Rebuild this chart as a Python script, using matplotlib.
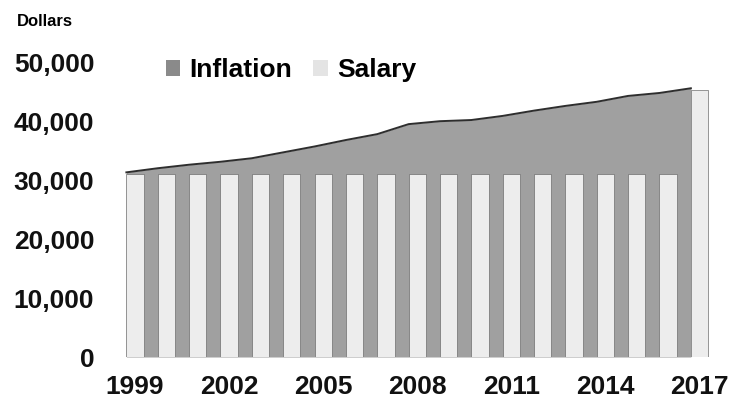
import numpy as np
import matplotlib.pyplot as plt
from matplotlib.patches import Patch

# Data
years = list(range(1999, 2018))
inflation = [31400, 32100, 32700, 33200, 33800, 34800, 35800, 36900, 37900, 39600,
             40100, 40300, 41000, 41900, 42700, 43400, 44400, 44900, 45700]
salary = [31200, 31200, 31200, 31200, 31200, 31200, 31200, 31200, 31200, 31200,
          31200, 31200, 31200, 31200, 31200, 31200, 31200, 31200, 45400]
tick_years = [1999, 2002, 2005, 2008, 2011, 2014, 2017]
ytick_vals = [0, 10000, 20000, 30000, 40000, 50000]

plt.rcParams['font.family'] = ['Liberation Sans', 'DejaVu Sans']
plt.rcParams['font.weight'] = 'bold'

fig = plt.figure(figsize=(7.32, 4.05), dpi=100)
ax = fig.add_axes([0.163, 0.1185, 0.814, 0.726])

x = np.arange(len(years))
bar_w = 0.55
area_col = '#a0a0a0'
bar_col = '#ededed'

# area is anchored on the bar left edges
ax.fill_between(x - bar_w / 2, 0, inflation, color=area_col, lw=0, zorder=1)
ax.plot(x - bar_w / 2, inflation, color='#2e2e2e', lw=1.4, zorder=2)
ax.bar(x, salary, width=bar_w, color=bar_col, edgecolor='#6e6e6e', lw=0.5, zorder=3)

ax.set_xlim(-0.5, len(years) - 0.5)
ax.set_ylim(0, 50000)
ax.set_xticks([years.index(y) for y in tick_years])
ax.set_xticklabels([str(y) for y in tick_years])
ax.set_yticks(ytick_vals)
ax.set_yticklabels([f'{v:,}' for v in ytick_vals])
ax.tick_params(axis='both', length=0, labelsize=19, colors='#111111')
ax.tick_params(axis='y', pad=18)
ax.tick_params(axis='x', pad=13)
for s in ax.spines.values():
    s.set_visible(False)

fig.text(0.023, 0.948, 'Dollars', fontsize=12, fontweight='bold', ha='left', va='center')

handles = [Patch(facecolor='#8a8a8a', edgecolor='none', label='Inflation'),
           Patch(facecolor='#e4e4e4', edgecolor='none', label='Salary')]
ax.legend(handles=handles, loc='center left', bbox_to_anchor=(0.06, 0.975), ncol=2,
          frameon=False, fontsize=19, handlelength=0.55, handleheight=0.55,
          handletextpad=0.35, columnspacing=0.8, borderaxespad=0)

fig.savefig('out.png', dpi=100)
